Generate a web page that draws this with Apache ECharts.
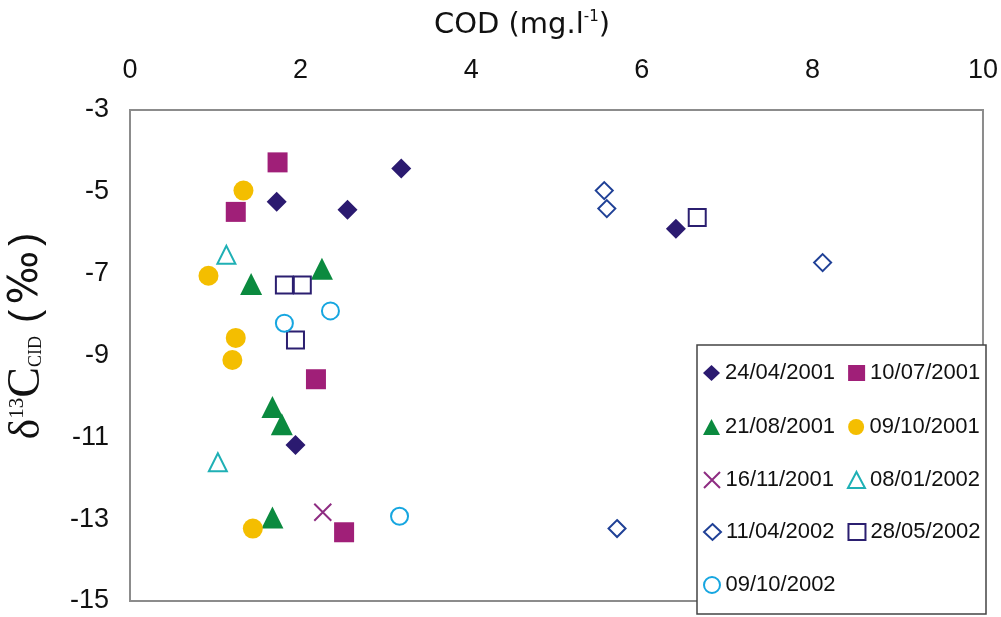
<!DOCTYPE html>
<html>
<head>
<meta charset="utf-8">
<script src="https://cdn.jsdelivr.net/npm/echarts@6/dist/echarts.min.js"></script>
<style>html,body{margin:0;padding:0;background:#fff;}#c{width:1001px;height:617px;}</style>
</head>
<body>
<div id="c"></div>
<script>
// ---- data (COD mg/l , delta13C permil) ----
const seriesNames = ['24/04/2001','10/07/2001','21/08/2001','09/10/2001','16/11/2001','08/01/2002','11/04/2002','28/05/2002','09/10/2002'];
const d_24_04_2001 = [[1.72,-5.24],[3.18,-4.43],[2.55,-5.44],[6.40,-5.90],[1.94,-11.19]];
const d_10_07_2001 = [[1.73,-4.28],[1.24,-5.49],[2.18,-9.58],[2.51,-13.32]];
const d_21_08_2001 = [[1.42,-7.25],[2.25,-6.88],[1.67,-10.26],[1.78,-10.68],[1.67,-12.96]];
const d_09_10_2001 = [[1.33,-4.97],[0.92,-7.05],[1.24,-8.57],[1.20,-9.11],[1.44,-13.23]];
const d_16_11_2001 = [[2.26,-12.83]];
const d_08_01_2002 = [[1.13,-6.54],[1.03,-11.61]];
const d_11_04_2002 = [[5.56,-4.97],[5.59,-5.41],[8.12,-6.73],[5.71,-13.23]];
const d_28_05_2002 = [[1.81,-7.28],[2.02,-7.28],[1.94,-8.62],[6.65,-5.63]];
const d_09_10_2002 = [[1.81,-8.21],[2.35,-7.91],[3.16,-12.93]];
const xTicks = {min:0, max:10, interval:2};
const yTicks = {min:-15, max:-3, interval:2};

const seriesData = [d_24_04_2001,d_10_07_2001,d_21_08_2001,d_09_10_2001,d_16_11_2001,d_08_01_2002,d_11_04_2002,d_28_05_2002,d_09_10_2002];

const X_PATH = 'path://M0,0L10,10M10,0L0,10';
const styles = [
  {symbol:'diamond', size:20, item:{color:'#2b1a70', opacity:1}},
  {symbol:'rect', size:20, item:{color:'#a01f78', opacity:1}},
  {symbol:'triangle', size:22, item:{color:'#0b8a3f', opacity:1}},
  {symbol:'circle', size:20, item:{color:'#f4be00', opacity:1}},
  {symbol:X_PATH, size:17, item:{color:'rgba(0,0,0,0)', borderColor:'#8e2c82', borderWidth:2, opacity:1}},
  {symbol:'triangle', size:18, item:{color:'rgba(255,255,255,0)', borderColor:'#1fb0b5', borderWidth:2, opacity:1}},
  {symbol:'diamond', size:17, item:{color:'rgba(255,255,255,0)', borderColor:'#1f4096', borderWidth:2, opacity:1}},
  {symbol:'rect', size:17, item:{color:'rgba(255,255,255,0)', borderColor:'#2b1f70', borderWidth:2, opacity:1}},
  {symbol:'circle', size:17, item:{color:'rgba(255,255,255,0)', borderColor:'#16a6e0', borderWidth:2, opacity:1}}
];

const series = seriesNames.map((n,i)=>({
  name:n, type:'scatter', data:seriesData[i],
  symbol:styles[i].symbol, symbolSize:styles[i].size,
  itemStyle:styles[i].item, z:2, animation:false
}));

const rowCenters = [373,427,480,532,585];
const legendRows = [[0,1],[2,3],[4,5],[6,7],[8]];
const legends = legendRows.map((r,k)=>({
  data:r.map(i=>seriesNames[i]),
  left:703, top:rowCenters[k]-12, orient:'horizontal',
  itemGap:13, itemWidth:17, itemHeight:16, padding:0,
  selectedMode:false, z:5,
  textStyle:{fontSize:22, fontFamily:'Liberation Sans, Arial, sans-serif', color:'#111', lineHeight:24}
}));

const chart = echarts.init(document.getElementById('c'), null, {renderer:'canvas'});
chart.setOption({
  animation:false,
  backgroundColor:'#fff',
  grid:{left:130, right:16, top:110, bottom:16, show:true, borderColor:'#8c8c8c', borderWidth:2, backgroundColor:'rgba(0,0,0,0)'},
  xAxis:{type:'value', position:'top', min:xTicks.min, max:xTicks.max, interval:xTicks.interval,
    axisLine:{show:false}, axisTick:{show:false}, splitLine:{show:false},
    axisLabel:{fontSize:27, fontFamily:'Liberation Sans, Arial, sans-serif', color:'#111', margin:26}},
  yAxis:{type:'value', min:yTicks.min, max:yTicks.max, interval:yTicks.interval,
    axisLine:{show:false}, axisTick:{show:false}, splitLine:{show:false},
    axisLabel:{fontSize:27, fontFamily:'Liberation Sans, Arial, sans-serif', color:'#111', margin:21}},
  legend:legends,
  graphic:[
    {type:'rect', z:3, shape:{x:697, y:345, width:289, height:269}, style:{fill:'#fff', stroke:'#444', lineWidth:1.5}},
    {type:'text', x:522, y:25, z:5, style:{
      text:'{a|COD (mg.l}{s|-1}{a|)}', align:'center', verticalAlign:'middle',
      rich:{
        a:{fontFamily:'DejaVu Sans', fontSize:29, fill:'#111'},
        s:{fontFamily:'DejaVu Sans', fontSize:15, fill:'#111', padding:[0,0,15,0]}
      }}},
    {type:'text', x:27, y:336, rotation:Math.PI/2, z:5, style:{
      text:'{d|δ}{u|13}{c|C}{b|CID}{p| (}{m|‰}{p|)}', align:'center', verticalAlign:'middle',
      rich:{
        d:{fontFamily:'Liberation Serif', fontSize:44, fill:'#111'},
        u:{fontFamily:'Liberation Serif', fontSize:21, fill:'#111', padding:[0,0,20,0]},
        c:{fontFamily:'Liberation Serif', fontSize:46, fill:'#111'},
        b:{fontFamily:'Liberation Serif', fontSize:18, fill:'#111', padding:[18,2,0,0]},
        p:{fontFamily:'Liberation Sans', fontSize:40, fill:'#111'},
        m:{fontFamily:'DejaVu Sans', fontSize:40, fill:'#111', padding:[0,5,0,5]}
      }}}
  ],
  series:series
});
</script>
</body>
</html>
